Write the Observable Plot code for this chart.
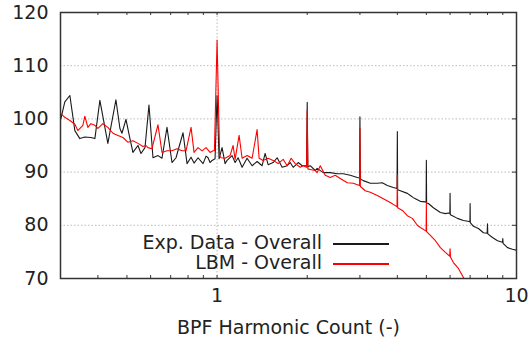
<!DOCTYPE html>
<html>
<head>
<meta charset="utf-8">
<script src="https://cdn.jsdelivr.net/npm/d3@7"></script>
<script src="https://cdn.jsdelivr.net/npm/@observablehq/plot@0.6"></script>
<style>
  body { margin: 0; background: #fff; }
  #wrap { position: relative; width: 529px; height: 347px; }
  .leg { position: absolute; font-family: "DejaVu Sans", sans-serif; font-size: 19px; color: #222; white-space: nowrap; }
</style>
</head>
<body>
<div id="wrap"></div>
<script>
// Exp. Data - Overall (black)
const expX = [0.3008,0.3101,0.3224,0.3350,0.3481,0.3618,0.3790,0.3908,0.4061,0.4318,0.4594,0.4738,0.4812,0.4963,0.5117,0.5237,0.5443,0.5570,0.5745,0.5923,0.6109,0.6348,0.6547,0.6804,0.7071,0.7293,0.7697,0.7938,0.8187,0.8378,0.8639,0.8979,0.9189,0.9331,0.9475,0.9622,0.9847,1.0,1.0155,1.0392,1.0635,1.0800,1.1225,1.1488,1.1756,1.2123,1.2597,1.3093,1.3605,1.4140,1.4471,1.4810,1.5390,1.5873,1.6496,1.7144,1.7545,1.7955,1.8663,1.9248,1.99,2.0,2.01,2.0464,2.1276,2.1598,2.2625,2.3876,2.5195,2.6390,2.7853,2.9393,2.99,3.0,3.01,3.0777,3.2489,3.4282,3.5631,3.7030,3.8774,3.99,4.0,4.01,4.0926,4.3193,4.4202,4.5232,4.5933,4.7734,4.9626,4.99,5.0,5.01,5.0786,5.2779,5.5695,5.7876,5.9235,5.99,6.0,6.01,6.1094,6.3487,6.6480,6.9614,6.99,7.0,7.01,7.1798,7.4614,7.7538,7.98,8.0,8.02,8.3118,8.6397,8.98,9.0,9.02,9.3305,9.6965,10.0];
const expY = [100.0,103.2,104.4,97.8,96.3,96.6,96.5,96.3,103.5,95.4,103.6,98.2,97.3,99.9,96.3,93.7,95.0,93.5,94.6,102.6,92.7,93.1,92.6,98.4,91.8,92.7,97.4,91.6,92.8,91.7,92.7,91.6,93.0,92.7,91.8,92.2,92.5,104.4,92.5,94.6,91.6,92.2,93.1,91.8,92.7,90.9,92.6,91.2,92.0,91.2,93.5,91.4,91.8,92.7,90.9,91.2,91.8,90.9,91.8,91.2,91.2,103.1,91.0,91.2,90.3,90.7,89.9,89.9,89.7,89.7,89.4,89.0,88.9,100.4,88.7,88.4,87.9,87.9,88.0,87.5,87.1,86.9,97.6,86.7,86.5,86.0,85.6,85.2,85.0,84.5,84.4,84.3,92.2,84.2,84.1,83.3,82.4,82.2,82.3,82.2,86.0,82.0,81.8,81.3,80.9,80.7,80.7,84.1,80.5,79.8,79.4,78.6,78.5,80.3,78.4,77.7,77.1,76.8,77.5,76.6,75.8,75.5,75.3];

// LBM - Overall (red)
const lbmX = [0.3008,0.3101,0.3224,0.3350,0.3428,0.3562,0.3618,0.3703,0.3790,0.3908,0.3999,0.4155,0.4318,0.4489,0.4666,0.4849,0.5040,0.5237,0.5443,0.5657,0.5789,0.5877,0.6061,0.6348,0.6547,0.6804,0.7071,0.7349,0.7637,0.7876,0.8187,0.8378,0.8639,0.8909,0.9189,0.9475,0.9696,0.980,1.0,1.020,1.0313,1.0635,1.1053,1.1312,1.1488,1.1846,1.2123,1.2597,1.3093,1.3605,1.3817,1.4249,1.4810,1.5390,1.5995,1.6624,1.7144,1.7682,1.8235,1.8954,1.9395,1.99,2.0,2.01,2.0464,2.1276,2.1598,2.2109,2.2977,2.3876,2.4809,2.5786,2.7217,2.8502,2.99,3.0,3.01,3.1261,3.2489,3.4282,3.5904,3.7893,3.9377,3.99,4.0,4.01,4.1564,4.3193,4.4888,4.6647,4.7734,4.9626,4.99,5.0,5.01,5.1577,5.3600,5.5695,5.7876,5.98,6.0,6.02,6.1560,6.3973,6.6480,6.75];
const lbmY = [101.0,100.3,99.7,99.0,97.8,98.8,100.5,98.4,99.1,98.8,98.2,99.1,98.4,97.3,96.9,96.5,95.6,95.9,95.4,94.8,95.0,94.6,94.4,98.9,93.7,94.0,94.0,94.4,94.0,94.0,98.4,93.7,94.6,94.0,94.6,93.7,94.0,94.0,114.8,93.0,92.7,92.6,93.1,95.0,92.4,96.9,92.6,93.1,92.6,98.0,92.6,92.2,92.6,92.2,91.6,92.4,91.2,92.6,91.6,90.9,91.2,90.9,101.6,90.6,90.5,90.3,89.9,91.2,89.4,89.0,89.4,88.8,88.0,87.9,87.5,98.2,87.3,86.5,86.2,85.6,85.0,84.3,83.7,83.5,89.5,83.3,82.8,81.8,81.3,80.0,79.6,79.0,78.9,84.3,78.8,78.1,77.1,75.8,74.9,74.2,75.6,74.0,73.0,71.9,70.2,69.5];

const yTicks = [70, 80, 90, 100, 110, 120];
const yGrid = [80, 90, 100, 110];
const xTicks = [1, 10];
const xGrid = [1];
const xMinor = [0.4, 0.5, 0.6, 0.7, 0.8, 0.9, 1, 2, 3, 4, 5, 6, 7, 8, 9];
const xLabel = "BPF Harmonic Count (-)";
const seriesNames = ["Exp. Data - Overall", "LBM - Overall"];
const seriesColors = ["#1a1a1a", "#ff0000"];

const exp = expX.map((x, i) => ({x, y: expY[i]}));
const lbm = lbmX.map((x, i) => ({x, y: lbmY[i]}));

const W = 529, H = 347, mT = 12, mL = 60, mR = 13, mB = 69;
const plotH = H - mT - mB, plotW = W - mL - mR;

const chart = Plot.plot({
  width: W, height: H,
  marginTop: mT, marginLeft: mL, marginRight: mR, marginBottom: mB,
  x: {type: "log", domain: [0.3, 10]},
  y: {domain: [70, 120]},
  style: {fontFamily: "DejaVu Sans, sans-serif", fontSize: "19px", color: "#222", background: "#fff"},
  marks: [
    Plot.gridY(yGrid, {stroke: "#bbb", strokeOpacity: 1, strokeDasharray: "1.5,2"}),
    Plot.gridX(xGrid, {stroke: "#bbb", strokeOpacity: 1, strokeDasharray: "1.5,2"}),
    Plot.line(exp, {x: "x", y: "y", stroke: seriesColors[0], strokeWidth: 1.1, clip: true}),
    Plot.line(lbm, {x: "x", y: "y", stroke: seriesColors[1], strokeWidth: 1.1, clip: true}),
    Plot.tickX(xMinor, {x: d => d, insetTop: plotH - 3, stroke: "#333"}),
    Plot.tickX(xMinor, {x: d => d, insetBottom: plotH - 3, stroke: "#333"}),
    Plot.tickY(yGrid, {y: d => d, insetLeft: plotW - 4, stroke: "#333"}),
    Plot.frame({stroke: "#333", strokeWidth: 1.5}),
    Plot.axisY(yTicks, {tickSize: 0, tickPadding: 12, label: null, fontSize: 19}),
    Plot.axisX(xTicks, {tickSize: 0, tickPadding: 10, label: null, fontSize: 19}),
    Plot.text([xLabel], {text: d => d, frameAnchor: "bottom", dy: 55, fontSize: 19, fill: "#222"})
  ]
});
const wrap = document.getElementById("wrap");
wrap.appendChild(chart);

// legend inside plot area (bottom-left)
const legY = [243, 263];
seriesNames.forEach((name, i) => {
  const t = document.createElement("div");
  t.className = "leg";
  t.textContent = name;
  t.style.right = (W - 322) + "px";
  t.style.top = (legY[i] - 12) + "px";
  wrap.appendChild(t);
  const l = document.createElement("div");
  l.style.position = "absolute";
  l.style.left = "333px";
  l.style.width = "56px";
  l.style.top = legY[i] + "px";
  l.style.height = "1.5px";
  l.style.background = seriesColors[i];
  wrap.appendChild(l);
});
</script>
</body>
</html>
